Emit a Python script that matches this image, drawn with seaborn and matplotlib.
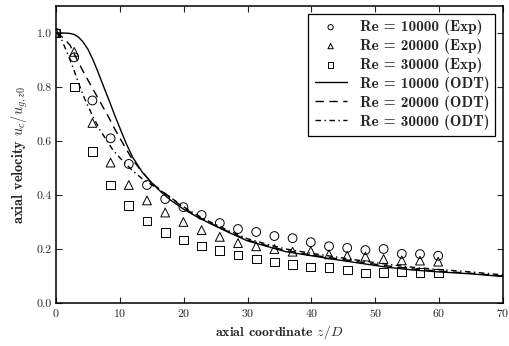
import matplotlib
matplotlib.use("Agg")
import matplotlib.pyplot as plt
import seaborn as sns
import pandas as pd

# experimental data (axial coordinate z/D, centreline velocity ratio)
z_exp = [0, 2.85, 5.7, 8.55, 11.4, 14.25, 17.1, 19.95, 22.8, 25.65, 28.5,
         31.35, 34.2, 37.05, 39.9, 42.75, 45.6, 48.45, 51.3, 54.15, 57.0, 59.85]
exp_re10000 = [1.0, 0.91, 0.75, 0.61, 0.515, 0.437, 0.385, 0.355, 0.326, 0.296, 0.274,
               0.263, 0.248, 0.24, 0.225, 0.21, 0.204, 0.196, 0.2, 0.182, 0.181, 0.175]
exp_re20000 = [1.0, 0.93, 0.667, 0.52, 0.437, 0.38, 0.335, 0.30, 0.27, 0.245, 0.222,
               0.21, 0.20, 0.19, 0.192, 0.18, 0.175, 0.172, 0.163, 0.158, 0.157, 0.153]
exp_re30000 = [1.0, 0.80, 0.56, 0.437, 0.36, 0.304, 0.262, 0.233, 0.211, 0.193, 0.178,
               0.163, 0.152, 0.144, 0.133, 0.13, 0.122, 0.111, 0.112, 0.118, 0.112, 0.111]

# ODT results
z_odt1 = [0, 1, 2, 2.8, 3.5, 4.2, 5.0, 5.8, 6.5, 7.4, 8.4, 9.2, 10.0, 11.0, 12.0, 13.5,
          15, 16.5, 18, 20, 22, 24, 27, 30, 33, 36, 40, 44, 48, 52, 56, 60, 65, 70]
odt_re10000 = [1.0, 1.0, 0.999, 0.995, 0.985, 0.968, 0.94, 0.90, 0.86, 0.805, 0.745, 0.695,
               0.648, 0.59, 0.54, 0.485, 0.445, 0.41, 0.38, 0.347, 0.32, 0.296, 0.262, 0.23,
               0.21, 0.19, 0.175, 0.16, 0.146, 0.132, 0.122, 0.115, 0.108, 0.098]
z_odt2 = [0, 0.5, 1.2, 2.2, 3.0, 4.2, 5.6, 6.9, 8.2, 9.3, 10.5, 12, 13.5, 15.2, 17.4, 20,
          22, 24, 27, 30, 33, 36, 40, 44, 48, 52, 56, 60, 65, 70]
odt_re20000 = [1.0, 0.995, 0.98, 0.955, 0.915, 0.86, 0.80, 0.745, 0.69, 0.64, 0.59, 0.53,
               0.485, 0.44, 0.40, 0.352, 0.323, 0.298, 0.264, 0.233, 0.213, 0.194, 0.178,
               0.164, 0.15, 0.137, 0.126, 0.118, 0.11, 0.1]
z_odt3 = [0, 0.5, 0.9, 1.7, 2.7, 3.6, 4.5, 5.8, 6.9, 8.0, 8.9, 10.3, 12, 13.5, 15.5, 17.4,
          20, 22, 24, 27, 30, 33, 36, 40, 44, 48, 52, 56, 60, 65, 70]
odt_re30000 = [1.0, 0.99, 0.974, 0.93, 0.87, 0.81, 0.755, 0.69, 0.64, 0.6, 0.567, 0.53,
               0.49, 0.46, 0.43, 0.40, 0.356, 0.327, 0.302, 0.268, 0.238, 0.218, 0.2,
               0.184, 0.17, 0.156, 0.143, 0.132, 0.124, 0.115, 0.104]

sns.set_style("ticks")
plt.rcParams["font.family"] = ["cmr10", "DejaVu Serif"]
plt.rcParams["mathtext.fontset"] = "cm"
plt.rcParams["axes.formatter.use_mathtext"] = True

fig = plt.figure(figsize=(5.1, 3.46), dpi=100)
ax = fig.add_axes([0.1098, 0.1243, 0.8765, 0.8584])

exp = pd.DataFrame({"z": z_exp, "a": exp_re10000, "b": exp_re20000, "c": exp_re30000})
mk = dict(s=40, facecolors="none", edgecolor="black", linewidth=0.7, ax=ax, zorder=3)
sns.scatterplot(data=exp, x="z", y="a", marker="o", label="Re = 10000 (Exp)", **mk)
sns.scatterplot(data=exp, x="z", y="b", marker="^", label="Re = 20000 (Exp)", **mk)
sns.scatterplot(data=exp, x="z", y="c", marker="s", label="Re = 30000 (Exp)", **mk)

sns.lineplot(x=z_odt1, y=odt_re10000, color="black", lw=1.0, ax=ax, label="Re = 10000 (ODT)")
sns.lineplot(x=z_odt2, y=odt_re20000, color="black", lw=1.0, ls=(0, (6, 4)), ax=ax,
             label="Re = 20000 (ODT)")
sns.lineplot(x=z_odt3, y=odt_re30000, color="black", lw=1.0, ls=(0, (4, 2.5, 1, 2.5)), ax=ax,
             label="Re = 30000 (ODT)")

ax.set_xlim(0, 70)
ax.set_ylim(0, 1.1)
ax.set_xticks([0, 10, 20, 30, 40, 50, 60, 70])
ax.set_yticks([0.0, 0.2, 0.4, 0.6, 0.8, 1.0])
ax.set_yticklabels(["0.0", "0.2", "0.4", "0.6", "0.8", "1.0"])
ax.tick_params(direction="in", top=True, right=True, length=4, width=0.8, labelsize=8.5, pad=3)
for sp in ax.spines.values():
    sp.set_linewidth(1.1)
    sp.set_color("black")

ax.set_xlabel(r"axial coordinate $z/D$", fontfamily="cmb10", fontsize=10, labelpad=3)
ax.set_ylabel(r"axial velocity $u_c/u_{g,z0}$", fontfamily="cmb10", fontsize=10.4, labelpad=5)

handles, labels = ax.get_legend_handles_labels()
leg = ax.legend(handles, labels, loc="upper right", prop={"family": "cmb10", "size": 11},
                fancybox=False, edgecolor="black", framealpha=1, markerscale=0.6,
                handlelength=2.1, borderaxespad=0.5, borderpad=0.4, labelspacing=0.22,
                handletextpad=0.85)
leg.get_frame().set_linewidth(0.9)

fig.savefig("out.png", dpi=100)
